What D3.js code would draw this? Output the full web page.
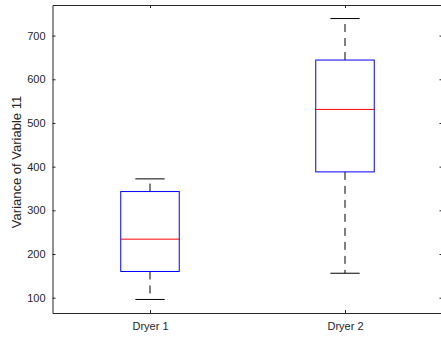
<!DOCTYPE html>
<html>
<head>
<meta charset="utf-8">
<script src="https://cdn.jsdelivr.net/npm/d3@7"></script>
<style>
  body { margin: 0; background: #fff; }
  text { font-family: Arial, "Liberation Sans", sans-serif; fill: #262626; }
</style>
</head>
<body>
<div id="chart"></div>
<script>
// data
var groups = ["Dryer 1", "Dryer 2"];
var lowerWhisker = [96, 156];
var q1 = [160, 388];
var medians = [234, 531];
var q3 = [343, 644];
var upperWhisker = [372, 739];
var yTicks = [100, 200, 300, 400, 500, 600, 700];

var svgWidth = 441, svgHeight = 340;
var margin = { top: 5, left: 52.5, right: -1.5, bottom: 27 };
var width = svgWidth - margin.left - margin.right;
var height = svgHeight - margin.top - margin.bottom;

var svg = d3.select("#chart").append("svg")
    .attr("width", svgWidth).attr("height", svgHeight);

var g = svg.append("g")
    .attr("transform", `translate(${margin.left}, ${margin.top})`);

var x = d3.scalePoint().domain(groups).range([0, width]).padding(0.5);
var y = d3.scaleLinear().domain([65, 770]).range([height, 0]);

var boxW = x.step() * 0.3;
var capW = boxW / 2;

var rows = groups.map(function(name, i) {
  return { name: name, lo: lowerWhisker[i], q1: q1[i], med: medians[i], q3: q3[i], hi: upperWhisker[i] };
});

// axes (ticks pointing inward, mirrored on top/right like MATLAB)
var axisColor = "#262626";
var leftAxis = g.append("g").call(d3.axisLeft(y).tickValues(yTicks).tickSizeInner(-3).tickSizeOuter(0).tickPadding(7));
var rightAxis = g.append("g").attr("transform", `translate(${width},0)`)
    .call(d3.axisRight(y).tickValues(yTicks).tickSizeInner(-3).tickSizeOuter(0).tickFormat(""));
var bottomAxis = g.append("g").attr("transform", `translate(0,${height})`)
    .call(d3.axisBottom(x).tickSizeInner(-3).tickSizeOuter(0).tickPadding(9));
var topAxis = g.append("g").call(d3.axisTop(x).tickSizeInner(-3).tickSizeOuter(0).tickFormat(""));

[leftAxis, rightAxis, bottomAxis, topAxis].forEach(function(a) {
  a.select(".domain").attr("stroke", axisColor).attr("stroke-width", 1);
  a.selectAll(".tick line").attr("stroke", axisColor);
  a.selectAll("text").attr("font-size", 11).attr("fill", axisColor)
    .style("font-family", "Arial, 'Liberation Sans', sans-serif");
});

// boxes
var box = g.selectAll(".boxg").data(rows).enter().append("g").attr("class", "boxg");

box.append("line")
    .attr("x1", d => x(d.name)).attr("x2", d => x(d.name))
    .attr("y1", d => y(d.q3)).attr("y2", d => y(d.hi))
    .attr("stroke", "#000").attr("stroke-dasharray", "8,6");
box.append("line")
    .attr("x1", d => x(d.name)).attr("x2", d => x(d.name))
    .attr("y1", d => y(d.q1)).attr("y2", d => y(d.lo))
    .attr("stroke", "#000").attr("stroke-dasharray", "8,6");

box.append("line")
    .attr("x1", d => x(d.name) - capW / 2).attr("x2", d => x(d.name) + capW / 2)
    .attr("y1", d => y(d.hi)).attr("y2", d => y(d.hi))
    .attr("stroke", "#000");
box.append("line")
    .attr("x1", d => x(d.name) - capW / 2).attr("x2", d => x(d.name) + capW / 2)
    .attr("y1", d => y(d.lo)).attr("y2", d => y(d.lo))
    .attr("stroke", "#000");

box.append("rect")
    .attr("x", d => x(d.name) - boxW / 2)
    .attr("y", d => y(d.q3))
    .attr("width", boxW)
    .attr("height", d => y(d.q1) - y(d.q3))
    .attr("fill", "none").attr("stroke", "#0000ff");

box.append("line")
    .attr("x1", d => x(d.name) - boxW / 2).attr("x2", d => x(d.name) + boxW / 2)
    .attr("y1", d => y(d.med)).attr("y2", d => y(d.med))
    .attr("stroke", "#ff0000");

// axis label
g.append("text")
    .attr("transform", "rotate(-90)")
    .attr("x", -height / 2 - 3)
    .attr("y", 16 - margin.left)
    .attr("dominant-baseline", "central")
    .attr("text-anchor", "middle")
    .attr("font-size", 13)
    .text("Variance of Variable 11");
</script>
</body>
</html>
